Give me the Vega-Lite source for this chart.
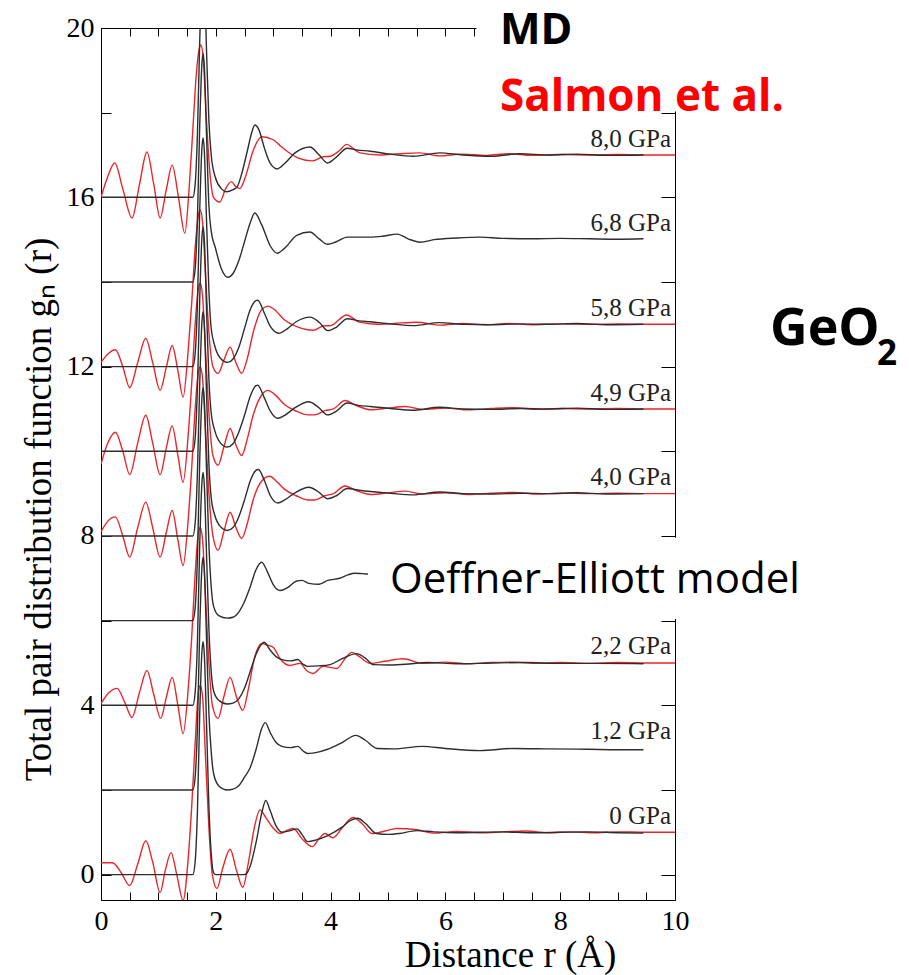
{
 "$schema": "https://vega.github.io/schema/vega-lite/v6.json",
 "width": 574, "height": 872,
 "autosize": {"type": "none"},
 "padding": {"left": 101, "top": 28, "right": 234, "bottom": 75},
 "background": "white",
 "config": {"view": {"stroke": null}},
 "datasets": {
  "curves": [
   {"s":"E0","k":"Exp","r":0,"g":0.28},{"s":"E0","k":"Exp","r":0.2,"g":0.28},{"s":"E0","k":"Exp","r":0.35,"g":0.05},{"s":"E0","k":"Exp","r":0.5,"g":-0.26},{"s":"E0","k":"Exp","r":0.64,"g":0.25},{"s":"E0","k":"Exp","r":0.78,"g":0.8},{"s":"E0","k":"Exp","r":0.9,"g":0.3},{"s":"E0","k":"Exp","r":1.03,"g":-0.42},{"s":"E0","k":"Exp","r":1.12,"g":0.1},{"s":"E0","k":"Exp","r":1.22,"g":0.52},{"s":"E0","k":"Exp","r":1.32,"g":0.0},{"s":"E0","k":"Exp","r":1.43,"g":-0.61},{"s":"E0","k":"Exp","r":1.52,"g":0.4},{"s":"E0","k":"Exp","r":1.58,"g":1.6},{"s":"E0","k":"Exp","r":1.64,"g":3.1},{"s":"E0","k":"Exp","r":1.7,"g":4.35},{"s":"E0","k":"Exp","r":1.73,"g":4.47},{"s":"E0","k":"Exp","r":1.77,"g":4.2},{"s":"E0","k":"Exp","r":1.82,"g":2.8},{"s":"E0","k":"Exp","r":1.88,"g":1.1},{"s":"E0","k":"Exp","r":1.94,"g":0.0},{"s":"E0","k":"Exp","r":2.02,"g":-0.33},{"s":"E0","k":"Exp","r":2.12,"g":0.15},{"s":"E0","k":"Exp","r":2.25,"g":0.6},{"s":"E0","k":"Exp","r":2.36,"g":0.1},{"s":"E0","k":"Exp","r":2.47,"g":-0.3},{"s":"E0","k":"Exp","r":2.57,"g":0.3},{"s":"E0","k":"Exp","r":2.67,"g":1.1},{"s":"E0","k":"Exp","r":2.77,"g":1.53},{"s":"E0","k":"Exp","r":2.87,"g":1.35},{"s":"E0","k":"Exp","r":3.0,"g":1.1},{"s":"E0","k":"Exp","r":3.12,"g":0.97},{"s":"E0","k":"Exp","r":3.25,"g":1.05},{"s":"E0","k":"Exp","r":3.35,"g":1.09},{"s":"E0","k":"Exp","r":3.5,"g":0.85},{"s":"E0","k":"Exp","r":3.68,"g":0.66},{"s":"E0","k":"Exp","r":3.8,"g":0.85},{"s":"E0","k":"Exp","r":3.9,"g":0.97},{"s":"E0","k":"Exp","r":4.04,"g":0.87},{"s":"E0","k":"Exp","r":4.2,"g":1.1},{"s":"E0","k":"Exp","r":4.39,"g":1.35},{"s":"E0","k":"Exp","r":4.55,"g":1.2},{"s":"E0","k":"Exp","r":4.72,"g":0.97},{"s":"E0","k":"Exp","r":4.95,"g":1.03},{"s":"E0","k":"Exp","r":5.16,"g":1.09},{"s":"E0","k":"Exp","r":5.5,"g":1.06},{"s":"E0","k":"Exp","r":5.8,"g":0.98},{"s":"E0","k":"Exp","r":6.2,"g":1.02},{"s":"E0","k":"Exp","r":6.6,"g":0.99},{"s":"E0","k":"Exp","r":7.0,"g":1.01},{"s":"E0","k":"Exp","r":7.4,"g":1.03},{"s":"E0","k":"Exp","r":7.8,"g":0.99},{"s":"E0","k":"Exp","r":8.2,"g":1.01},{"s":"E0","k":"Exp","r":8.6,"g":0.99},{"s":"E0","k":"Exp","r":9.0,"g":1.01},{"s":"E0","k":"Exp","r":9.5,"g":1.0},{"s":"E0","k":"Exp","r":10,"g":1.0},

   {"s":"E2","k":"Exp","r":0,"g":4.04},{"s":"E2","k":"Exp","r":0.14,"g":4.3},{"s":"E2","k":"Exp","r":0.28,"g":4.4},{"s":"E2","k":"Exp","r":0.42,"g":4.05},{"s":"E2","k":"Exp","r":0.54,"g":3.71},{"s":"E2","k":"Exp","r":0.67,"g":4.3},{"s":"E2","k":"Exp","r":0.8,"g":4.82},{"s":"E2","k":"Exp","r":0.92,"g":4.25},{"s":"E2","k":"Exp","r":1.04,"g":3.69},{"s":"E2","k":"Exp","r":1.14,"g":4.2},{"s":"E2","k":"Exp","r":1.24,"g":4.66},{"s":"E2","k":"Exp","r":1.34,"g":4.0},{"s":"E2","k":"Exp","r":1.43,"g":3.33},{"s":"E2","k":"Exp","r":1.52,"g":4.4},{"s":"E2","k":"Exp","r":1.58,"g":5.6},{"s":"E2","k":"Exp","r":1.64,"g":7.1},{"s":"E2","k":"Exp","r":1.7,"g":8.1},{"s":"E2","k":"Exp","r":1.73,"g":8.2},{"s":"E2","k":"Exp","r":1.77,"g":7.9},{"s":"E2","k":"Exp","r":1.82,"g":6.6},{"s":"E2","k":"Exp","r":1.88,"g":5.0},{"s":"E2","k":"Exp","r":1.94,"g":4.0},{"s":"E2","k":"Exp","r":2.04,"g":3.69},{"s":"E2","k":"Exp","r":2.14,"g":4.2},{"s":"E2","k":"Exp","r":2.25,"g":4.66},{"s":"E2","k":"Exp","r":2.36,"g":4.2},{"s":"E2","k":"Exp","r":2.47,"g":3.88},{"s":"E2","k":"Exp","r":2.57,"g":4.4},{"s":"E2","k":"Exp","r":2.67,"g":5.1},{"s":"E2","k":"Exp","r":2.8,"g":5.46},{"s":"E2","k":"Exp","r":2.9,"g":5.42},{"s":"E2","k":"Exp","r":3.0,"g":5.37},{"s":"E2","k":"Exp","r":3.12,"g":5.1},{"s":"E2","k":"Exp","r":3.29,"g":4.94},{"s":"E2","k":"Exp","r":3.47,"g":4.99},{"s":"E2","k":"Exp","r":3.58,"g":4.82},{"s":"E2","k":"Exp","r":3.69,"g":4.75},{"s":"E2","k":"Exp","r":3.87,"g":4.92},{"s":"E2","k":"Exp","r":4.11,"g":4.87},{"s":"E2","k":"Exp","r":4.25,"g":5.1},{"s":"E2","k":"Exp","r":4.37,"g":5.25},{"s":"E2","k":"Exp","r":4.5,"g":5.15},{"s":"E2","k":"Exp","r":4.69,"g":4.99},{"s":"E2","k":"Exp","r":4.95,"g":5.04},{"s":"E2","k":"Exp","r":5.26,"g":5.1},{"s":"E2","k":"Exp","r":5.61,"g":4.99},{"s":"E2","k":"Exp","r":6.0,"g":5.02},{"s":"E2","k":"Exp","r":6.4,"g":4.98},{"s":"E2","k":"Exp","r":6.8,"g":5.01},{"s":"E2","k":"Exp","r":7.2,"g":5.02},{"s":"E2","k":"Exp","r":7.6,"g":4.99},{"s":"E2","k":"Exp","r":8.0,"g":5.01},{"s":"E2","k":"Exp","r":8.5,"g":4.99},{"s":"E2","k":"Exp","r":9.0,"g":5.01},{"s":"E2","k":"Exp","r":9.5,"g":5.0},{"s":"E2","k":"Exp","r":10,"g":5.0},

   {"s":"E4","k":"Exp","r":0,"g":8.1},{"s":"E4","k":"Exp","r":0.12,"g":8.35},{"s":"E4","k":"Exp","r":0.25,"g":8.45},{"s":"E4","k":"Exp","r":0.38,"g":8.0},{"s":"E4","k":"Exp","r":0.5,"g":7.5},{"s":"E4","k":"Exp","r":0.64,"g":8.2},{"s":"E4","k":"Exp","r":0.78,"g":8.8},{"s":"E4","k":"Exp","r":0.9,"g":8.2},{"s":"E4","k":"Exp","r":1.03,"g":7.5},{"s":"E4","k":"Exp","r":1.14,"g":8.1},{"s":"E4","k":"Exp","r":1.24,"g":8.6},{"s":"E4","k":"Exp","r":1.34,"g":7.9},{"s":"E4","k":"Exp","r":1.43,"g":7.3},{"s":"E4","k":"Exp","r":1.52,"g":8.4},{"s":"E4","k":"Exp","r":1.58,"g":9.6},{"s":"E4","k":"Exp","r":1.64,"g":11.0},{"s":"E4","k":"Exp","r":1.7,"g":11.9},{"s":"E4","k":"Exp","r":1.73,"g":12.0},{"s":"E4","k":"Exp","r":1.77,"g":11.7},{"s":"E4","k":"Exp","r":1.82,"g":10.5},{"s":"E4","k":"Exp","r":1.88,"g":9.0},{"s":"E4","k":"Exp","r":1.95,"g":8.0},{"s":"E4","k":"Exp","r":2.04,"g":7.66},{"s":"E4","k":"Exp","r":2.14,"g":8.1},{"s":"E4","k":"Exp","r":2.25,"g":8.56},{"s":"E4","k":"Exp","r":2.35,"g":8.2},{"s":"E4","k":"Exp","r":2.45,"g":7.94},{"s":"E4","k":"Exp","r":2.55,"g":8.3},{"s":"E4","k":"Exp","r":2.65,"g":8.85},{"s":"E4","k":"Exp","r":2.8,"g":9.3},{"s":"E4","k":"Exp","r":2.94,"g":9.41},{"s":"E4","k":"Exp","r":3.05,"g":9.3},{"s":"E4","k":"Exp","r":3.2,"g":9.1},{"s":"E4","k":"Exp","r":3.4,"g":8.95},{"s":"E4","k":"Exp","r":3.6,"g":8.85},{"s":"E4","k":"Exp","r":3.72,"g":8.85},{"s":"E4","k":"Exp","r":3.9,"g":8.95},{"s":"E4","k":"Exp","r":4.05,"g":9.0},{"s":"E4","k":"Exp","r":4.25,"g":9.18},{"s":"E4","k":"Exp","r":4.45,"g":9.07},{"s":"E4","k":"Exp","r":4.7,"g":8.98},{"s":"E4","k":"Exp","r":5.0,"g":9.02},{"s":"E4","k":"Exp","r":5.3,"g":9.06},{"s":"E4","k":"Exp","r":5.6,"g":8.99},{"s":"E4","k":"Exp","r":6.0,"g":9.02},{"s":"E4","k":"Exp","r":6.4,"g":8.98},{"s":"E4","k":"Exp","r":6.8,"g":9.01},{"s":"E4","k":"Exp","r":7.2,"g":9.03},{"s":"E4","k":"Exp","r":7.6,"g":8.99},{"s":"E4","k":"Exp","r":8.0,"g":9.01},{"s":"E4","k":"Exp","r":8.5,"g":9.0},{"s":"E4","k":"Exp","r":9.0,"g":9.01},{"s":"E4","k":"Exp","r":9.5,"g":9.0},{"s":"E4","k":"Exp","r":10,"g":9.0},

   {"s":"E49","k":"Exp","r":0,"g":9.7},{"s":"E49","k":"Exp","r":0.12,"g":10.2},{"s":"E49","k":"Exp","r":0.25,"g":10.45},{"s":"E49","k":"Exp","r":0.38,"g":10.0},{"s":"E49","k":"Exp","r":0.5,"g":9.45},{"s":"E49","k":"Exp","r":0.64,"g":10.2},{"s":"E49","k":"Exp","r":0.78,"g":10.85},{"s":"E49","k":"Exp","r":0.9,"g":10.2},{"s":"E49","k":"Exp","r":1.03,"g":9.45},{"s":"E49","k":"Exp","r":1.14,"g":10.1},{"s":"E49","k":"Exp","r":1.24,"g":10.6},{"s":"E49","k":"Exp","r":1.34,"g":9.9},{"s":"E49","k":"Exp","r":1.43,"g":9.27},{"s":"E49","k":"Exp","r":1.52,"g":10.4},{"s":"E49","k":"Exp","r":1.58,"g":11.6},{"s":"E49","k":"Exp","r":1.64,"g":13.0},{"s":"E49","k":"Exp","r":1.7,"g":13.87},{"s":"E49","k":"Exp","r":1.73,"g":13.97},{"s":"E49","k":"Exp","r":1.77,"g":13.65},{"s":"E49","k":"Exp","r":1.82,"g":12.4},{"s":"E49","k":"Exp","r":1.88,"g":10.9},{"s":"E49","k":"Exp","r":1.95,"g":9.9},{"s":"E49","k":"Exp","r":2.04,"g":9.67},{"s":"E49","k":"Exp","r":2.14,"g":10.1},{"s":"E49","k":"Exp","r":2.25,"g":10.54},{"s":"E49","k":"Exp","r":2.35,"g":10.15},{"s":"E49","k":"Exp","r":2.45,"g":9.9},{"s":"E49","k":"Exp","r":2.55,"g":10.3},{"s":"E49","k":"Exp","r":2.65,"g":10.85},{"s":"E49","k":"Exp","r":2.8,"g":11.33},{"s":"E49","k":"Exp","r":2.91,"g":11.44},{"s":"E49","k":"Exp","r":3.02,"g":11.35},{"s":"E49","k":"Exp","r":3.2,"g":11.1},{"s":"E49","k":"Exp","r":3.4,"g":10.95},{"s":"E49","k":"Exp","r":3.6,"g":10.86},{"s":"E49","k":"Exp","r":3.72,"g":10.86},{"s":"E49","k":"Exp","r":3.9,"g":10.96},{"s":"E49","k":"Exp","r":4.05,"g":11.0},{"s":"E49","k":"Exp","r":4.25,"g":11.2},{"s":"E49","k":"Exp","r":4.45,"g":11.08},{"s":"E49","k":"Exp","r":4.7,"g":10.98},{"s":"E49","k":"Exp","r":5.0,"g":11.02},{"s":"E49","k":"Exp","r":5.3,"g":11.06},{"s":"E49","k":"Exp","r":5.6,"g":10.99},{"s":"E49","k":"Exp","r":6.0,"g":11.02},{"s":"E49","k":"Exp","r":6.4,"g":10.98},{"s":"E49","k":"Exp","r":6.8,"g":11.01},{"s":"E49","k":"Exp","r":7.2,"g":11.03},{"s":"E49","k":"Exp","r":7.6,"g":10.99},{"s":"E49","k":"Exp","r":8.0,"g":11.01},{"s":"E49","k":"Exp","r":8.5,"g":11.0},{"s":"E49","k":"Exp","r":9.0,"g":11.01},{"s":"E49","k":"Exp","r":9.5,"g":11.0},{"s":"E49","k":"Exp","r":10,"g":11.0},

   {"s":"E58","k":"Exp","r":0,"g":12.1},{"s":"E58","k":"Exp","r":0.12,"g":12.3},{"s":"E58","k":"Exp","r":0.25,"g":12.4},{"s":"E58","k":"Exp","r":0.38,"g":12.0},{"s":"E58","k":"Exp","r":0.5,"g":11.5},{"s":"E58","k":"Exp","r":0.64,"g":12.1},{"s":"E58","k":"Exp","r":0.78,"g":12.67},{"s":"E58","k":"Exp","r":0.9,"g":12.1},{"s":"E58","k":"Exp","r":1.03,"g":11.44},{"s":"E58","k":"Exp","r":1.14,"g":12.0},{"s":"E58","k":"Exp","r":1.24,"g":12.5},{"s":"E58","k":"Exp","r":1.34,"g":11.9},{"s":"E58","k":"Exp","r":1.43,"g":11.28},{"s":"E58","k":"Exp","r":1.52,"g":12.4},{"s":"E58","k":"Exp","r":1.58,"g":13.5},{"s":"E58","k":"Exp","r":1.64,"g":14.8},{"s":"E58","k":"Exp","r":1.7,"g":15.6},{"s":"E58","k":"Exp","r":1.73,"g":15.7},{"s":"E58","k":"Exp","r":1.77,"g":15.4},{"s":"E58","k":"Exp","r":1.82,"g":14.2},{"s":"E58","k":"Exp","r":1.88,"g":12.8},{"s":"E58","k":"Exp","r":1.95,"g":12.0},{"s":"E58","k":"Exp","r":2.04,"g":11.84},{"s":"E58","k":"Exp","r":2.14,"g":12.15},{"s":"E58","k":"Exp","r":2.25,"g":12.46},{"s":"E58","k":"Exp","r":2.35,"g":12.1},{"s":"E58","k":"Exp","r":2.45,"g":11.84},{"s":"E58","k":"Exp","r":2.55,"g":12.2},{"s":"E58","k":"Exp","r":2.65,"g":12.8},{"s":"E58","k":"Exp","r":2.8,"g":13.35},{"s":"E58","k":"Exp","r":2.91,"g":13.43},{"s":"E58","k":"Exp","r":3.02,"g":13.35},{"s":"E58","k":"Exp","r":3.2,"g":13.1},{"s":"E58","k":"Exp","r":3.4,"g":12.95},{"s":"E58","k":"Exp","r":3.6,"g":12.87},{"s":"E58","k":"Exp","r":3.7,"g":12.86},{"s":"E58","k":"Exp","r":3.87,"g":12.96},{"s":"E58","k":"Exp","r":4.0,"g":12.97},{"s":"E58","k":"Exp","r":4.28,"g":13.22},{"s":"E58","k":"Exp","r":4.5,"g":13.05},{"s":"E58","k":"Exp","r":4.8,"g":13.0},{"s":"E58","k":"Exp","r":5.1,"g":13.02},{"s":"E58","k":"Exp","r":5.5,"g":13.05},{"s":"E58","k":"Exp","r":5.9,"g":12.98},{"s":"E58","k":"Exp","r":6.3,"g":13.02},{"s":"E58","k":"Exp","r":6.7,"g":12.99},{"s":"E58","k":"Exp","r":7.1,"g":13.02},{"s":"E58","k":"Exp","r":7.5,"g":12.99},{"s":"E58","k":"Exp","r":8.0,"g":13.01},{"s":"E58","k":"Exp","r":8.5,"g":13.0},{"s":"E58","k":"Exp","r":9.0,"g":13.01},{"s":"E58","k":"Exp","r":9.5,"g":13.0},{"s":"E58","k":"Exp","r":10,"g":13.0},

   {"s":"E8","k":"Exp","r":0,"g":16.0},{"s":"E8","k":"Exp","r":0.12,"g":16.5},{"s":"E8","k":"Exp","r":0.24,"g":16.81},{"s":"E8","k":"Exp","r":0.38,"g":16.2},{"s":"E8","k":"Exp","r":0.54,"g":15.51},{"s":"E8","k":"Exp","r":0.67,"g":16.3},{"s":"E8","k":"Exp","r":0.8,"g":17.07},{"s":"E8","k":"Exp","r":0.92,"g":16.3},{"s":"E8","k":"Exp","r":1.03,"g":15.51},{"s":"E8","k":"Exp","r":1.14,"g":16.2},{"s":"E8","k":"Exp","r":1.24,"g":16.76},{"s":"E8","k":"Exp","r":1.35,"g":16.0},{"s":"E8","k":"Exp","r":1.46,"g":15.15},{"s":"E8","k":"Exp","r":1.54,"g":16.3},{"s":"E8","k":"Exp","r":1.6,"g":17.6},{"s":"E8","k":"Exp","r":1.66,"g":18.9},{"s":"E8","k":"Exp","r":1.71,"g":19.5},{"s":"E8","k":"Exp","r":1.74,"g":19.6},{"s":"E8","k":"Exp","r":1.78,"g":19.3},{"s":"E8","k":"Exp","r":1.83,"g":18.0},{"s":"E8","k":"Exp","r":1.89,"g":16.7},{"s":"E8","k":"Exp","r":1.96,"g":16.0},{"s":"E8","k":"Exp","r":2.07,"g":15.89},{"s":"E8","k":"Exp","r":2.17,"g":16.2},{"s":"E8","k":"Exp","r":2.27,"g":16.37},{"s":"E8","k":"Exp","r":2.35,"g":16.25},{"s":"E8","k":"Exp","r":2.42,"g":16.21},{"s":"E8","k":"Exp","r":2.52,"g":16.5},{"s":"E8","k":"Exp","r":2.65,"g":17.1},{"s":"E8","k":"Exp","r":2.8,"g":17.43},{"s":"E8","k":"Exp","r":3.0,"g":17.36},{"s":"E8","k":"Exp","r":3.12,"g":17.22},{"s":"E8","k":"Exp","r":3.26,"g":17.07},{"s":"E8","k":"Exp","r":3.45,"g":16.92},{"s":"E8","k":"Exp","r":3.68,"g":16.86},{"s":"E8","k":"Exp","r":3.87,"g":16.96},{"s":"E8","k":"Exp","r":3.99,"g":16.97},{"s":"E8","k":"Exp","r":4.15,"g":17.1},{"s":"E8","k":"Exp","r":4.28,"g":17.25},{"s":"E8","k":"Exp","r":4.4,"g":17.15},{"s":"E8","k":"Exp","r":4.51,"g":17.05},{"s":"E8","k":"Exp","r":4.86,"g":17.0},{"s":"E8","k":"Exp","r":5.2,"g":17.03},{"s":"E8","k":"Exp","r":5.55,"g":17.05},{"s":"E8","k":"Exp","r":5.9,"g":16.98},{"s":"E8","k":"Exp","r":6.3,"g":17.02},{"s":"E8","k":"Exp","r":6.7,"g":16.99},{"s":"E8","k":"Exp","r":7.1,"g":17.03},{"s":"E8","k":"Exp","r":7.5,"g":16.99},{"s":"E8","k":"Exp","r":8.0,"g":17.01},{"s":"E8","k":"Exp","r":8.5,"g":17.0},{"s":"E8","k":"Exp","r":9.0,"g":17.01},{"s":"E8","k":"Exp","r":9.5,"g":17.0},{"s":"E8","k":"Exp","r":10,"g":17.0},

   {"s":"M0","k":"MD","r":0,"g":0},{"s":"M0","k":"MD","r":1.6,"g":0},{"s":"M0","k":"MD","r":1.64,"g":0.3},{"s":"M0","k":"MD","r":1.68,"g":1.5},{"s":"M0","k":"MD","r":1.72,"g":3.8},{"s":"M0","k":"MD","r":1.76,"g":5.3},{"s":"M0","k":"MD","r":1.78,"g":5.5},{"s":"M0","k":"MD","r":1.8,"g":5.2},{"s":"M0","k":"MD","r":1.84,"g":3.5},{"s":"M0","k":"MD","r":1.88,"g":1.6},{"s":"M0","k":"MD","r":1.92,"g":0.5},{"s":"M0","k":"MD","r":1.96,"g":0.05},{"s":"M0","k":"MD","r":2.0,"g":0},{"s":"M0","k":"MD","r":2.5,"g":0},{"s":"M0","k":"MD","r":2.55,"g":0.05},{"s":"M0","k":"MD","r":2.6,"g":0.2},{"s":"M0","k":"MD","r":2.7,"g":0.75},{"s":"M0","k":"MD","r":2.8,"g":1.45},{"s":"M0","k":"MD","r":2.87,"g":1.75},{"s":"M0","k":"MD","r":2.95,"g":1.5},{"s":"M0","k":"MD","r":3.05,"g":1.15},{"s":"M0","k":"MD","r":3.15,"g":1.0},{"s":"M0","k":"MD","r":3.3,"g":1.04},{"s":"M0","k":"MD","r":3.42,"g":1.08},{"s":"M0","k":"MD","r":3.5,"g":0.95},{"s":"M0","k":"MD","r":3.6,"g":0.78},{"s":"M0","k":"MD","r":3.75,"g":0.82},{"s":"M0","k":"MD","r":3.95,"g":0.92},{"s":"M0","k":"MD","r":4.2,"g":1.12},{"s":"M0","k":"MD","r":4.35,"g":1.28},{"s":"M0","k":"MD","r":4.47,"g":1.33},{"s":"M0","k":"MD","r":4.6,"g":1.22},{"s":"M0","k":"MD","r":4.8,"g":0.97},{"s":"M0","k":"MD","r":5.0,"g":0.95},{"s":"M0","k":"MD","r":5.2,"g":0.97},{"s":"M0","k":"MD","r":5.5,"g":1.04},{"s":"M0","k":"MD","r":5.8,"g":1.01},{"s":"M0","k":"MD","r":6.2,"g":0.99},{"s":"M0","k":"MD","r":6.6,"g":1.0},{"s":"M0","k":"MD","r":7.0,"g":1.01},{"s":"M0","k":"MD","r":7.5,"g":0.99},{"s":"M0","k":"MD","r":8.0,"g":1.0},{"s":"M0","k":"MD","r":8.5,"g":1.01},{"s":"M0","k":"MD","r":9.0,"g":0.99},{"s":"M0","k":"MD","r":9.45,"g":0.98},

   {"s":"M12","k":"MD","r":0,"g":2},{"s":"M12","k":"MD","r":1.6,"g":2},{"s":"M12","k":"MD","r":1.64,"g":2.3},{"s":"M12","k":"MD","r":1.68,"g":3.5},{"s":"M12","k":"MD","r":1.72,"g":5.8},{"s":"M12","k":"MD","r":1.76,"g":7.3},{"s":"M12","k":"MD","r":1.78,"g":7.5},{"s":"M12","k":"MD","r":1.8,"g":7.2},{"s":"M12","k":"MD","r":1.84,"g":5.5},{"s":"M12","k":"MD","r":1.88,"g":3.8},{"s":"M12","k":"MD","r":1.92,"g":2.9},{"s":"M12","k":"MD","r":1.96,"g":2.4},{"s":"M12","k":"MD","r":2.05,"g":2.1},{"s":"M12","k":"MD","r":2.2,"g":2.0},{"s":"M12","k":"MD","r":2.3,"g":2.02},{"s":"M12","k":"MD","r":2.4,"g":2.1},{"s":"M12","k":"MD","r":2.5,"g":2.3},{"s":"M12","k":"MD","r":2.6,"g":2.53},{"s":"M12","k":"MD","r":2.7,"g":2.95},{"s":"M12","k":"MD","r":2.8,"g":3.45},{"s":"M12","k":"MD","r":2.86,"g":3.59},{"s":"M12","k":"MD","r":2.95,"g":3.35},{"s":"M12","k":"MD","r":3.05,"g":3.12},{"s":"M12","k":"MD","r":3.15,"g":3.03},{"s":"M12","k":"MD","r":3.3,"g":3.0},{"s":"M12","k":"MD","r":3.43,"g":3.03},{"s":"M12","k":"MD","r":3.52,"g":2.92},{"s":"M12","k":"MD","r":3.6,"g":2.86},{"s":"M12","k":"MD","r":3.8,"g":2.9},{"s":"M12","k":"MD","r":3.99,"g":2.98},{"s":"M12","k":"MD","r":4.2,"g":3.12},{"s":"M12","k":"MD","r":4.44,"g":3.29},{"s":"M12","k":"MD","r":4.6,"g":3.18},{"s":"M12","k":"MD","r":4.81,"g":2.98},{"s":"M12","k":"MD","r":5.1,"g":2.97},{"s":"M12","k":"MD","r":5.6,"g":3.03},{"s":"M12","k":"MD","r":6.0,"g":2.98},{"s":"M12","k":"MD","r":6.6,"g":2.93},{"s":"M12","k":"MD","r":7.2,"g":2.98},{"s":"M12","k":"MD","r":7.8,"g":2.97},{"s":"M12","k":"MD","r":8.5,"g":2.96},{"s":"M12","k":"MD","r":9.0,"g":2.95},{"s":"M12","k":"MD","r":9.45,"g":2.95},

   {"s":"M22","k":"MD","r":0,"g":4},{"s":"M22","k":"MD","r":1.6,"g":4},{"s":"M22","k":"MD","r":1.64,"g":4.3},{"s":"M22","k":"MD","r":1.68,"g":5.5},{"s":"M22","k":"MD","r":1.72,"g":7.8},{"s":"M22","k":"MD","r":1.76,"g":9.3},{"s":"M22","k":"MD","r":1.78,"g":9.5},{"s":"M22","k":"MD","r":1.8,"g":9.2},{"s":"M22","k":"MD","r":1.84,"g":7.5},{"s":"M22","k":"MD","r":1.88,"g":5.8},{"s":"M22","k":"MD","r":1.92,"g":4.8},{"s":"M22","k":"MD","r":1.96,"g":4.35},{"s":"M22","k":"MD","r":2.05,"g":4.12},{"s":"M22","k":"MD","r":2.2,"g":4.03},{"s":"M22","k":"MD","r":2.3,"g":4.05},{"s":"M22","k":"MD","r":2.4,"g":4.15},{"s":"M22","k":"MD","r":2.5,"g":4.4},{"s":"M22","k":"MD","r":2.6,"g":4.8},{"s":"M22","k":"MD","r":2.7,"g":5.2},{"s":"M22","k":"MD","r":2.8,"g":5.45},{"s":"M22","k":"MD","r":2.84,"g":5.49},{"s":"M22","k":"MD","r":2.95,"g":5.3},{"s":"M22","k":"MD","r":3.05,"g":5.15},{"s":"M22","k":"MD","r":3.15,"g":5.08},{"s":"M22","k":"MD","r":3.3,"g":5.05},{"s":"M22","k":"MD","r":3.43,"g":5.08},{"s":"M22","k":"MD","r":3.52,"g":4.97},{"s":"M22","k":"MD","r":3.6,"g":4.92},{"s":"M22","k":"MD","r":3.8,"g":4.93},{"s":"M22","k":"MD","r":3.99,"g":4.96},{"s":"M22","k":"MD","r":4.2,"g":5.1},{"s":"M22","k":"MD","r":4.45,"g":5.22},{"s":"M22","k":"MD","r":4.6,"g":5.12},{"s":"M22","k":"MD","r":4.75,"g":4.96},{"s":"M22","k":"MD","r":5.0,"g":4.95},{"s":"M22","k":"MD","r":5.3,"g":4.97},{"s":"M22","k":"MD","r":5.7,"g":5.01},{"s":"M22","k":"MD","r":6.2,"g":4.98},{"s":"M22","k":"MD","r":6.8,"g":5.0},{"s":"M22","k":"MD","r":7.4,"g":5.01},{"s":"M22","k":"MD","r":8.0,"g":4.99},{"s":"M22","k":"MD","r":8.6,"g":4.99},{"s":"M22","k":"MD","r":9.45,"g":4.98},

   {"s":"MOE","k":"MD","r":0,"g":6},{"s":"MOE","k":"MD","r":1.6,"g":6},{"s":"MOE","k":"MD","r":1.64,"g":6.3},{"s":"MOE","k":"MD","r":1.68,"g":7.5},{"s":"MOE","k":"MD","r":1.72,"g":9.8},{"s":"MOE","k":"MD","r":1.76,"g":11.3},{"s":"MOE","k":"MD","r":1.78,"g":11.5},{"s":"MOE","k":"MD","r":1.8,"g":11.2},{"s":"MOE","k":"MD","r":1.84,"g":9.5},{"s":"MOE","k":"MD","r":1.88,"g":7.8},{"s":"MOE","k":"MD","r":1.92,"g":6.8},{"s":"MOE","k":"MD","r":1.96,"g":6.35},{"s":"MOE","k":"MD","r":2.05,"g":6.12},{"s":"MOE","k":"MD","r":2.2,"g":6.06},{"s":"MOE","k":"MD","r":2.3,"g":6.08},{"s":"MOE","k":"MD","r":2.4,"g":6.2},{"s":"MOE","k":"MD","r":2.5,"g":6.45},{"s":"MOE","k":"MD","r":2.6,"g":6.8},{"s":"MOE","k":"MD","r":2.7,"g":7.2},{"s":"MOE","k":"MD","r":2.8,"g":7.38},{"s":"MOE","k":"MD","r":2.9,"g":7.15},{"s":"MOE","k":"MD","r":3.0,"g":6.85},{"s":"MOE","k":"MD","r":3.12,"g":6.71},{"s":"MOE","k":"MD","r":3.25,"g":6.78},{"s":"MOE","k":"MD","r":3.4,"g":6.93},{"s":"MOE","k":"MD","r":3.5,"g":6.95},{"s":"MOE","k":"MD","r":3.62,"g":6.88},{"s":"MOE","k":"MD","r":3.8,"g":6.86},{"s":"MOE","k":"MD","r":3.95,"g":6.95},{"s":"MOE","k":"MD","r":4.16,"g":7.0},{"s":"MOE","k":"MD","r":4.3,"g":7.08},{"s":"MOE","k":"MD","r":4.42,"g":7.12},{"s":"MOE","k":"MD","r":4.55,"g":7.11},{"s":"MOE","k":"MD","r":4.65,"g":7.1},

   {"s":"M4","k":"MD","r":0,"g":8},{"s":"M4","k":"MD","r":1.6,"g":8},{"s":"M4","k":"MD","r":1.64,"g":8.3},{"s":"M4","k":"MD","r":1.68,"g":9.5},{"s":"M4","k":"MD","r":1.72,"g":11.6},{"s":"M4","k":"MD","r":1.76,"g":13.1},{"s":"M4","k":"MD","r":1.78,"g":13.3},{"s":"M4","k":"MD","r":1.8,"g":13.0},{"s":"M4","k":"MD","r":1.84,"g":11.3},{"s":"M4","k":"MD","r":1.88,"g":9.7},{"s":"M4","k":"MD","r":1.92,"g":8.9},{"s":"M4","k":"MD","r":1.98,"g":8.5},{"s":"M4","k":"MD","r":2.08,"g":8.22},{"s":"M4","k":"MD","r":2.2,"g":8.13},{"s":"M4","k":"MD","r":2.3,"g":8.2},{"s":"M4","k":"MD","r":2.4,"g":8.45},{"s":"M4","k":"MD","r":2.5,"g":8.85},{"s":"M4","k":"MD","r":2.6,"g":9.3},{"s":"M4","k":"MD","r":2.7,"g":9.55},{"s":"M4","k":"MD","r":2.74,"g":9.57},{"s":"M4","k":"MD","r":2.85,"g":9.3},{"s":"M4","k":"MD","r":2.95,"g":8.95},{"s":"M4","k":"MD","r":3.08,"g":8.78},{"s":"M4","k":"MD","r":3.2,"g":8.85},{"s":"M4","k":"MD","r":3.38,"g":9.02},{"s":"M4","k":"MD","r":3.62,"g":9.15},{"s":"M4","k":"MD","r":3.78,"g":9.05},{"s":"M4","k":"MD","r":3.95,"g":8.88},{"s":"M4","k":"MD","r":4.1,"g":8.95},{"s":"M4","k":"MD","r":4.29,"g":9.12},{"s":"M4","k":"MD","r":4.5,"g":9.08},{"s":"M4","k":"MD","r":4.69,"g":9.05},{"s":"M4","k":"MD","r":5.04,"g":9.01},{"s":"M4","k":"MD","r":5.44,"g":8.97},{"s":"M4","k":"MD","r":5.9,"g":9.04},{"s":"M4","k":"MD","r":6.3,"g":9.0},{"s":"M4","k":"MD","r":6.8,"g":8.99},{"s":"M4","k":"MD","r":7.3,"g":9.01},{"s":"M4","k":"MD","r":7.8,"g":9.0},{"s":"M4","k":"MD","r":8.3,"g":9.02},{"s":"M4","k":"MD","r":8.8,"g":8.99},{"s":"M4","k":"MD","r":9.45,"g":9.0},

   {"s":"M49","k":"MD","r":0,"g":10},{"s":"M49","k":"MD","r":1.6,"g":10},{"s":"M49","k":"MD","r":1.64,"g":10.3},{"s":"M49","k":"MD","r":1.68,"g":11.5},{"s":"M49","k":"MD","r":1.72,"g":13.6},{"s":"M49","k":"MD","r":1.76,"g":15.1},{"s":"M49","k":"MD","r":1.78,"g":15.3},{"s":"M49","k":"MD","r":1.8,"g":15.0},{"s":"M49","k":"MD","r":1.84,"g":13.3},{"s":"M49","k":"MD","r":1.88,"g":11.7},{"s":"M49","k":"MD","r":1.92,"g":10.9},{"s":"M49","k":"MD","r":1.98,"g":10.5},{"s":"M49","k":"MD","r":2.08,"g":10.2},{"s":"M49","k":"MD","r":2.2,"g":10.1},{"s":"M49","k":"MD","r":2.3,"g":10.18},{"s":"M49","k":"MD","r":2.4,"g":10.45},{"s":"M49","k":"MD","r":2.5,"g":10.85},{"s":"M49","k":"MD","r":2.6,"g":11.3},{"s":"M49","k":"MD","r":2.7,"g":11.55},{"s":"M49","k":"MD","r":2.73,"g":11.56},{"s":"M49","k":"MD","r":2.85,"g":11.25},{"s":"M49","k":"MD","r":2.95,"g":10.95},{"s":"M49","k":"MD","r":3.08,"g":10.78},{"s":"M49","k":"MD","r":3.2,"g":10.85},{"s":"M49","k":"MD","r":3.38,"g":11.03},{"s":"M49","k":"MD","r":3.62,"g":11.17},{"s":"M49","k":"MD","r":3.78,"g":11.05},{"s":"M49","k":"MD","r":3.95,"g":10.86},{"s":"M49","k":"MD","r":4.1,"g":10.95},{"s":"M49","k":"MD","r":4.29,"g":11.14},{"s":"M49","k":"MD","r":4.5,"g":11.08},{"s":"M49","k":"MD","r":4.69,"g":11.06},{"s":"M49","k":"MD","r":5.04,"g":11.01},{"s":"M49","k":"MD","r":5.44,"g":10.97},{"s":"M49","k":"MD","r":5.9,"g":11.04},{"s":"M49","k":"MD","r":6.3,"g":11.0},{"s":"M49","k":"MD","r":6.8,"g":10.99},{"s":"M49","k":"MD","r":7.3,"g":11.01},{"s":"M49","k":"MD","r":7.8,"g":11.0},{"s":"M49","k":"MD","r":8.3,"g":11.02},{"s":"M49","k":"MD","r":8.8,"g":10.99},{"s":"M49","k":"MD","r":9.45,"g":11.0},

   {"s":"M58","k":"MD","r":0,"g":12},{"s":"M58","k":"MD","r":1.6,"g":12},{"s":"M58","k":"MD","r":1.64,"g":12.3},{"s":"M58","k":"MD","r":1.68,"g":13.5},{"s":"M58","k":"MD","r":1.72,"g":15.7},{"s":"M58","k":"MD","r":1.76,"g":17.2},{"s":"M58","k":"MD","r":1.78,"g":17.4},{"s":"M58","k":"MD","r":1.8,"g":17.1},{"s":"M58","k":"MD","r":1.84,"g":15.4},{"s":"M58","k":"MD","r":1.88,"g":13.8},{"s":"M58","k":"MD","r":1.92,"g":12.9},{"s":"M58","k":"MD","r":1.98,"g":12.5},{"s":"M58","k":"MD","r":2.08,"g":12.2},{"s":"M58","k":"MD","r":2.21,"g":12.1},{"s":"M58","k":"MD","r":2.3,"g":12.18},{"s":"M58","k":"MD","r":2.4,"g":12.45},{"s":"M58","k":"MD","r":2.5,"g":12.9},{"s":"M58","k":"MD","r":2.6,"g":13.35},{"s":"M58","k":"MD","r":2.7,"g":13.56},{"s":"M58","k":"MD","r":2.73,"g":13.57},{"s":"M58","k":"MD","r":2.85,"g":13.25},{"s":"M58","k":"MD","r":2.95,"g":12.95},{"s":"M58","k":"MD","r":3.1,"g":12.79},{"s":"M58","k":"MD","r":3.25,"g":12.9},{"s":"M58","k":"MD","r":3.4,"g":13.06},{"s":"M58","k":"MD","r":3.64,"g":13.17},{"s":"M58","k":"MD","r":3.8,"g":13.05},{"s":"M58","k":"MD","r":3.95,"g":12.85},{"s":"M58","k":"MD","r":4.1,"g":12.93},{"s":"M58","k":"MD","r":4.29,"g":13.13},{"s":"M58","k":"MD","r":4.5,"g":13.08},{"s":"M58","k":"MD","r":4.69,"g":13.06},{"s":"M58","k":"MD","r":5.04,"g":13.01},{"s":"M58","k":"MD","r":5.44,"g":12.97},{"s":"M58","k":"MD","r":5.9,"g":13.04},{"s":"M58","k":"MD","r":6.3,"g":13.0},{"s":"M58","k":"MD","r":6.8,"g":12.99},{"s":"M58","k":"MD","r":7.3,"g":13.01},{"s":"M58","k":"MD","r":7.8,"g":13.0},{"s":"M58","k":"MD","r":8.3,"g":13.02},{"s":"M58","k":"MD","r":8.8,"g":12.99},{"s":"M58","k":"MD","r":9.45,"g":13.0},

   {"s":"M68","k":"MD","r":0,"g":14},{"s":"M68","k":"MD","r":1.6,"g":14},{"s":"M68","k":"MD","r":1.64,"g":14.3},{"s":"M68","k":"MD","r":1.68,"g":15.5},{"s":"M68","k":"MD","r":1.72,"g":17.7},{"s":"M68","k":"MD","r":1.76,"g":19.2},{"s":"M68","k":"MD","r":1.78,"g":19.4},{"s":"M68","k":"MD","r":1.8,"g":19.1},{"s":"M68","k":"MD","r":1.84,"g":17.4},{"s":"M68","k":"MD","r":1.88,"g":15.8},{"s":"M68","k":"MD","r":1.92,"g":15.2},{"s":"M68","k":"MD","r":1.99,"g":14.82},{"s":"M68","k":"MD","r":2.1,"g":14.3},{"s":"M68","k":"MD","r":2.21,"g":14.11},{"s":"M68","k":"MD","r":2.3,"g":14.2},{"s":"M68","k":"MD","r":2.4,"g":14.5},{"s":"M68","k":"MD","r":2.5,"g":14.95},{"s":"M68","k":"MD","r":2.6,"g":15.4},{"s":"M68","k":"MD","r":2.68,"g":15.63},{"s":"M68","k":"MD","r":2.8,"g":15.35},{"s":"M68","k":"MD","r":2.95,"g":14.85},{"s":"M68","k":"MD","r":3.07,"g":14.68},{"s":"M68","k":"MD","r":3.2,"g":14.8},{"s":"M68","k":"MD","r":3.41,"g":15.1},{"s":"M68","k":"MD","r":3.64,"g":15.18},{"s":"M68","k":"MD","r":3.8,"g":15.02},{"s":"M68","k":"MD","r":3.95,"g":14.89},{"s":"M68","k":"MD","r":4.1,"g":14.95},{"s":"M68","k":"MD","r":4.29,"g":15.06},{"s":"M68","k":"MD","r":4.69,"g":15.06},{"s":"M68","k":"MD","r":4.9,"g":15.08},{"s":"M68","k":"MD","r":5.16,"g":15.13},{"s":"M68","k":"MD","r":5.35,"g":15.02},{"s":"M68","k":"MD","r":5.56,"g":14.94},{"s":"M68","k":"MD","r":5.8,"g":15.0},{"s":"M68","k":"MD","r":6.2,"g":15.04},{"s":"M68","k":"MD","r":6.6,"g":15.06},{"s":"M68","k":"MD","r":7.0,"g":15.03},{"s":"M68","k":"MD","r":7.5,"g":15.02},{"s":"M68","k":"MD","r":8.0,"g":15.03},{"s":"M68","k":"MD","r":8.5,"g":15.02},{"s":"M68","k":"MD","r":9.0,"g":15.01},{"s":"M68","k":"MD","r":9.45,"g":15.02},

   {"s":"M8","k":"MD","r":0,"g":16},{"s":"M8","k":"MD","r":1.6,"g":16},{"s":"M8","k":"MD","r":1.64,"g":16.3},{"s":"M8","k":"MD","r":1.68,"g":17.5},{"s":"M8","k":"MD","r":1.72,"g":19.7},{"s":"M8","k":"MD","r":1.76,"g":21.2},{"s":"M8","k":"MD","r":1.78,"g":21.5},{"s":"M8","k":"MD","r":1.8,"g":21.2},{"s":"M8","k":"MD","r":1.84,"g":19.4},{"s":"M8","k":"MD","r":1.88,"g":17.8},{"s":"M8","k":"MD","r":1.92,"g":17.0},{"s":"M8","k":"MD","r":1.99,"g":16.48},{"s":"M8","k":"MD","r":2.1,"g":16.2},{"s":"M8","k":"MD","r":2.19,"g":16.13},{"s":"M8","k":"MD","r":2.3,"g":16.18},{"s":"M8","k":"MD","r":2.37,"g":16.24},{"s":"M8","k":"MD","r":2.45,"g":16.55},{"s":"M8","k":"MD","r":2.55,"g":17.1},{"s":"M8","k":"MD","r":2.62,"g":17.5},{"s":"M8","k":"MD","r":2.68,"g":17.71},{"s":"M8","k":"MD","r":2.75,"g":17.6},{"s":"M8","k":"MD","r":2.85,"g":17.15},{"s":"M8","k":"MD","r":2.95,"g":16.8},{"s":"M8","k":"MD","r":3.07,"g":16.67},{"s":"M8","k":"MD","r":3.2,"g":16.8},{"s":"M8","k":"MD","r":3.38,"g":17.05},{"s":"M8","k":"MD","r":3.64,"g":17.19},{"s":"M8","k":"MD","r":3.8,"g":17.0},{"s":"M8","k":"MD","r":3.95,"g":16.81},{"s":"M8","k":"MD","r":4.1,"g":16.95},{"s":"M8","k":"MD","r":4.29,"g":17.16},{"s":"M8","k":"MD","r":4.45,"g":17.12},{"s":"M8","k":"MD","r":4.69,"g":17.09},{"s":"M8","k":"MD","r":5.04,"g":17.02},{"s":"M8","k":"MD","r":5.44,"g":16.97},{"s":"M8","k":"MD","r":5.9,"g":17.05},{"s":"M8","k":"MD","r":6.3,"g":17.0},{"s":"M8","k":"MD","r":6.8,"g":16.97},{"s":"M8","k":"MD","r":7.3,"g":17.03},{"s":"M8","k":"MD","r":7.8,"g":17.0},{"s":"M8","k":"MD","r":8.3,"g":17.02},{"s":"M8","k":"MD","r":8.8,"g":16.99},{"s":"M8","k":"MD","r":9.45,"g":17.0}
  ]
 },
 "layer": [
  {
   "data": {"name": "curves"},
   "mark": {"type": "line", "interpolate": "monotone", "clip": true, "strokeWidth": 1.4},
   "encoding": {
    "x": {"field": "r", "type": "quantitative", "scale": {"domain": [0, 10], "nice": false, "zero": false},
     "axis": {"orient": "bottom", "values": [0,0.5,1,1.5,2,2.5,3,3.5,4,4.5,5,5.5,6,6.5,7,7.5,8,8.5,9,9.5,10],
      "labelExpr": "datum.value % 2 === 0 ? '' + datum.value : ''", "grid": false, "tickSize": -8, "labelPadding": 15,
      "domainColor": "black", "tickColor": "black", "labelColor": "black", "labelFont": "Liberation Serif", "labelFontSize": 28,
      "labelFlush": false, "labelOverlap": false, "zindex": 0,
      "title": "Distance r (Å)", "titleFont": "Liberation Serif", "titleFontSize": 37, "titleFontWeight": "normal", "titleColor": "black",
      "titleX": 409, "titleY": 66, "titleBaseline": "alphabetic", "titleAlign": "center"}},
    "y": {"field": "g", "type": "quantitative", "scale": {"domain": [-0.6, 20], "nice": false, "zero": false},
     "axis": {"orient": "left", "values": [0,2,4,6,8,10,12,14,16,18,20],
      "labelExpr": "datum.value % 4 === 0 ? '' + datum.value : ''", "grid": false, "tickSize": -10, "labelPadding": 17,
      "domainColor": "black", "tickColor": "black", "labelColor": "black", "labelFont": "Liberation Serif", "labelFontSize": 28,
      "labelFlush": false, "labelOverlap": false, "zindex": 0,
      "title": "Total pair distribution function gₙ (r)", "titleFont": "Liberation Serif", "titleFontSize": 37, "titleFontWeight": "normal", "titleColor": "black",
      "titleX": -51, "titleY": 481, "titleBaseline": "alphabetic", "titleAlign": "center", "titleAngle": 270}},
    "color": {"field": "k", "type": "nominal", "scale": {"domain": ["MD", "Exp"], "range": ["#2e2e2e", "#e8262b"]}, "legend": null},
    "detail": {"field": "s"}
   }
  },
  {
   "data": {"values": [{"x1": 6.54, "x2": 10.6, "y1": 19.72, "y2": 20.9}, {"x1": 9.9, "x2": 10.6, "y1": 18.03, "y2": 20.9}, {"x1": 9.9, "x2": 10.6, "y1": 6.04, "y2": 7.96}]},
   "mark": {"type": "rect", "fill": "white", "clip": false},
   "encoding": {
    "x": {"field": "x1", "type": "quantitative", "scale": {"domain": [0, 10], "nice": false, "zero": false},
     "axis": {"orient": "top", "values": [0,0.5,1,1.5,2,2.5,3,3.5,4,4.5,5,5.5,6,6.5,7,7.5,8,8.5,9,9.5,10], "labels": false, "grid": false, "tickSize": -8,
      "domainColor": "black", "tickColor": "black", "title": null, "zindex": 0}},
    "x2": {"field": "x2"},
    "y": {"field": "y1", "type": "quantitative", "scale": {"domain": [-0.6, 20], "nice": false, "zero": false},
     "axis": {"orient": "right", "values": [0,2,4,6,8,10,12,14,16,18,20], "labels": false, "grid": false, "tickSize": -14,
      "domainColor": "black", "tickColor": "black", "title": null, "zindex": 0}},
    "y2": {"field": "y2"}
   }
  },
  {
   "data": {"values": [{"lab": "8,0 GPa", "r": 9.93, "g": 17.2}, {"lab": "6,8 GPa", "r": 9.93, "g": 15.2}, {"lab": "5,8 GPa", "r": 9.93, "g": 13.2}, {"lab": "4,9 GPa", "r": 9.93, "g": 11.2}, {"lab": "4,0 GPa", "r": 9.93, "g": 9.2}, {"lab": "2,2 GPa", "r": 9.93, "g": 5.2}, {"lab": "1,2 GPa", "r": 9.93, "g": 3.2}, {"lab": "0 GPa", "r": 9.93, "g": 1.2}]},
   "mark": {"type": "text", "align": "right", "baseline": "alphabetic", "font": "Liberation Serif", "fontSize": 25, "color": "#222"},
   "encoding": {
    "x": {"field": "r", "type": "quantitative", "scale": {"domain": [0, 10], "nice": false, "zero": false}, "axis": null},
    "y": {"field": "g", "type": "quantitative", "scale": {"domain": [-0.6, 20], "nice": false, "zero": false}, "axis": null},
    "text": {"field": "lab"}
   }
  },
  {
   "data": {"values": [{"lab": "MD", "r": 6.95, "g": 19.63}]},
   "mark": {"type": "text", "align": "left", "baseline": "alphabetic", "font": "Open Sans", "fontWeight": "bold", "fontSize": 43, "color": "black"},
   "encoding": {
    "x": {"field": "r", "type": "quantitative", "scale": {"domain": [0, 10], "nice": false, "zero": false}, "axis": null},
    "y": {"field": "g", "type": "quantitative", "scale": {"domain": [-0.6, 20], "nice": false, "zero": false}, "axis": null},
    "text": {"field": "lab"}
   }
  },
  {
   "data": {"values": [{"lab": "Salmon et al.", "r": 6.95, "g": 18.05}]},
   "mark": {"type": "text", "align": "left", "baseline": "alphabetic", "font": "Open Sans", "fontWeight": "bold", "fontSize": 44, "color": "#ff0000"},
   "encoding": {
    "x": {"field": "r", "type": "quantitative", "scale": {"domain": [0, 10], "nice": false, "zero": false}, "axis": null},
    "y": {"field": "g", "type": "quantitative", "scale": {"domain": [-0.6, 20], "nice": false, "zero": false}, "axis": null},
    "text": {"field": "lab"}
   }
  },
  {
   "data": {"values": [{"lab": "GeO", "r": 11.655, "g": 12.5}]},
   "mark": {"type": "text", "align": "left", "baseline": "alphabetic", "font": "Open Sans", "fontWeight": "bold", "fontSize": 52, "color": "black"},
   "encoding": {
    "x": {"field": "r", "type": "quantitative", "scale": {"domain": [0, 10], "nice": false, "zero": false}, "axis": null},
    "y": {"field": "g", "type": "quantitative", "scale": {"domain": [-0.6, 20], "nice": false, "zero": false}, "axis": null},
    "text": {"field": "lab"}
   }
  },
  {
   "data": {"values": [{"lab": "2", "r": 13.52, "g": 12.05}]},
   "mark": {"type": "text", "align": "left", "baseline": "alphabetic", "font": "Open Sans", "fontWeight": "bold", "fontSize": 35, "color": "black"},
   "encoding": {
    "x": {"field": "r", "type": "quantitative", "scale": {"domain": [0, 10], "nice": false, "zero": false}, "axis": null},
    "y": {"field": "g", "type": "quantitative", "scale": {"domain": [-0.6, 20], "nice": false, "zero": false}, "axis": null},
    "text": {"field": "lab"}
   }
  },
  {
   "data": {"values": [{"lab": "Oeffner-Elliott model", "r": 5.035, "g": 6.66}]},
   "mark": {"type": "text", "align": "left", "baseline": "alphabetic", "font": "Open Sans", "fontSize": 42, "color": "black"},
   "encoding": {
    "x": {"field": "r", "type": "quantitative", "scale": {"domain": [0, 10], "nice": false, "zero": false}, "axis": null},
    "y": {"field": "g", "type": "quantitative", "scale": {"domain": [-0.6, 20], "nice": false, "zero": false}, "axis": null},
    "text": {"field": "lab"}
   }
  }
 ],
 "resolve": {"axis": {"x": "independent", "y": "independent"}}
}
